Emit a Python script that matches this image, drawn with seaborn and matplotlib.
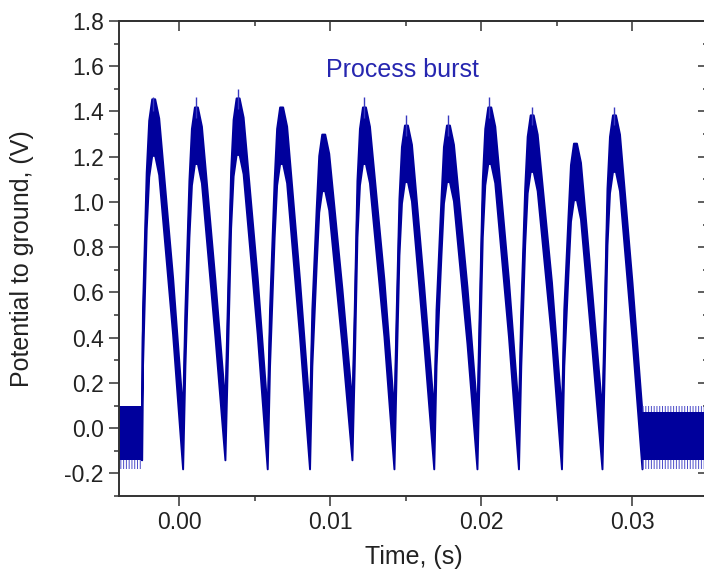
import numpy as np
import matplotlib
matplotlib.use("Agg")
import matplotlib.pyplot as plt
import seaborn as sns
from matplotlib.ticker import MultipleLocator, FormatStrFormatter

# centre of the noisy trace during the burst, time in ms, potential in V
# per pulse: trough, rise, knee, left shoulder, peak, peak, right shoulder, decay
pulse_ms = [
    -2.503, -2.444, -2.199, -2.033, -1.834, -1.636, -1.371, -0.450,
    0.212, 0.364, 0.629, 0.795, 0.994, 1.192, 1.457, 2.351,
    3.013, 3.166, 3.390, 3.556, 3.755, 3.953, 4.218, 5.152,
    5.815, 5.967, 6.271, 6.437, 6.636, 6.834, 7.099, 7.954,
    8.616, 8.768, 9.059, 9.225, 9.424, 9.622, 9.887, 10.762,
    11.424, 11.576, 11.755, 11.921, 12.120, 12.318, 12.583, 13.543,
    14.205, 14.358, 14.536, 14.702, 14.901, 15.099, 15.364, 16.179,
    16.841, 16.993, 17.317, 17.483, 17.682, 17.880, 18.145, 19.040,
    19.702, 19.854, 20.053, 20.219, 20.418, 20.616, 20.881, 21.788,
    22.450, 22.603, 22.861, 23.027, 23.226, 23.424, 23.689, 24.636,
    25.298, 25.450, 25.728, 25.894, 26.093, 26.291, 26.556, 27.318,
    27.980, 28.132, 28.311, 28.477, 28.676, 28.874, 29.139, 29.967,
    30.629]
pulse_v = [
    -0.015, 0.40, 1.006, 1.236, 1.331, 1.331, 1.246, 0.54,
    -0.055, 0.40, 0.97, 1.20, 1.295, 1.295, 1.21, 0.53,
    -0.015, 0.40, 1.01, 1.24, 1.335, 1.335, 1.25, 0.54,
    -0.055, 0.40, 0.97, 1.20, 1.295, 1.295, 1.21, 0.53,
    -0.055, 0.40, 0.85, 1.08, 1.175, 1.175, 1.09, 0.49,
    -0.015, 0.40, 0.97, 1.20, 1.295, 1.295, 1.21, 0.53,
    -0.055, 0.40, 0.89, 1.12, 1.215, 1.215, 1.13, 0.50,
    -0.055, 0.40, 0.89, 1.12, 1.215, 1.215, 1.13, 0.50,
    -0.055, 0.40, 0.97, 1.20, 1.295, 1.295, 1.21, 0.53,
    -0.055, 0.40, 0.935, 1.165, 1.26, 1.26, 1.175, 0.52,
    -0.055, 0.40, 0.81, 1.04, 1.135, 1.135, 1.05, 0.47,
    -0.055, 0.40, 0.935, 1.165, 1.26, 1.26, 1.175, 0.52,
    -0.055]
noise_half = 0.125  # half width of the noise band

# thin spikes sitting on top of some peaks
spike_ms = [-1.735, 1.093, 3.854, 12.219, 15.000, 17.781, 20.517, 23.325, 28.775]
spike_base = [1.40, 1.37, 1.41, 1.37, 1.29, 1.29, 1.37, 1.34, 1.34]
spike_top = [1.466, 1.466, 1.50, 1.466, 1.385, 1.385, 1.466, 1.42, 1.42]

# quiet periods before and after the burst
pre_s = [-0.0042, -0.002503]
post_s = [0.030629, 0.0352]
pre_lo, pre_hi = -0.14, 0.10
post_lo, post_hi = -0.14, 0.07
comb_lo, comb_hi = -0.18, 0.10

blue = "#00009c"

sns.set_style("ticks")
plt.rcParams["font.family"] = ["Liberation Sans", "DejaVu Sans"]
plt.rcParams["axes.unicode_minus"] = False
plt.rcParams["hatch.linewidth"] = 0.7

fig = plt.figure(figsize=(7.04, 5.82), dpi=100)
ax = fig.add_axes([119 / 704, 1 - 496 / 582, 589 / 704, 475 / 582])

t = np.array(pulse_ms) / 1000
v = np.array(pulse_v)
ax.fill_between(t, v - noise_half, v + noise_half, color=blue, lw=1.4)
sns.lineplot(x=t, y=v, ax=ax, color=blue, lw=1, estimator=None, sort=False)
ax.vlines(np.array(spike_ms) / 1000, spike_base, spike_top, color="#3838c0", lw=1)

ax.fill_between(pre_s, pre_lo, pre_hi, color=blue, lw=0)
ax.fill_between(pre_s, comb_lo, pre_lo, facecolor="none", edgecolor="#4a4ac8",
                hatch="||||||", lw=0)
ax.fill_between(post_s, post_lo, post_hi, color=blue, lw=0)
ax.fill_between(post_s, comb_lo, post_lo, facecolor="none", edgecolor="#4a4ac8",
                hatch="||||||", lw=0)
ax.fill_between(post_s, post_hi, comb_hi, facecolor="none", edgecolor="#4a4ac8",
                hatch="||||||", lw=0)

ax.text(0.01474, 1.584, "Process burst", ha="center", va="center",
        fontsize=18, color="#2626b0")

ax.set_xlim(-0.004, 0.035)
ax.set_ylim(-0.3, 1.8)
ax.xaxis.set_major_locator(MultipleLocator(0.01))
ax.xaxis.set_minor_locator(MultipleLocator(0.005))
ax.yaxis.set_major_locator(MultipleLocator(0.2))
ax.yaxis.set_minor_locator(MultipleLocator(0.1))
ax.xaxis.set_major_formatter(FormatStrFormatter("%.2f"))
ax.yaxis.set_major_formatter(FormatStrFormatter("%.1f"))

spine_col = "#333333"
for s in ax.spines.values():
    s.set_visible(True)
    s.set_linewidth(1.4)
    s.set_color(spine_col)

ax.tick_params(which="major", direction="out", length=7, width=1.1,
               color=spine_col, labelsize=16.5, labelcolor="#222222", pad=4)
ax.tick_params(which="minor", direction="out", length=3.8, width=1.1, color=spine_col)

# mirrored inward ticks on top and right, no labels
top = ax.secondary_xaxis("top")
top.xaxis.set_major_locator(MultipleLocator(0.01))
top.xaxis.set_minor_locator(MultipleLocator(0.005))
top.tick_params(which="both", labeltop=False, labelbottom=False)
right = ax.secondary_yaxis("right")
right.yaxis.set_major_locator(MultipleLocator(0.2))
right.yaxis.set_minor_locator(MultipleLocator(0.1))
right.tick_params(which="both", labelright=False, labelleft=False)
for sec in (top, right):
    sec.tick_params(which="major", direction="in", length=7, width=1.1, color=spine_col)
    sec.tick_params(which="minor", direction="in", length=3.8, width=1.1, color=spine_col)
    for s in sec.spines.values():
        s.set_linewidth(1.4)
        s.set_color(spine_col)

ax.set_xlabel("Time, (s)", fontsize=18, color="#222222")
ax.set_ylabel("Potential to ground, (V)", fontsize=18, color="#222222")
ax.xaxis.set_label_coords(0.5, -0.103)
ax.yaxis.set_label_coords(-0.144, 0.5)

fig.savefig("out.png", dpi=100)
